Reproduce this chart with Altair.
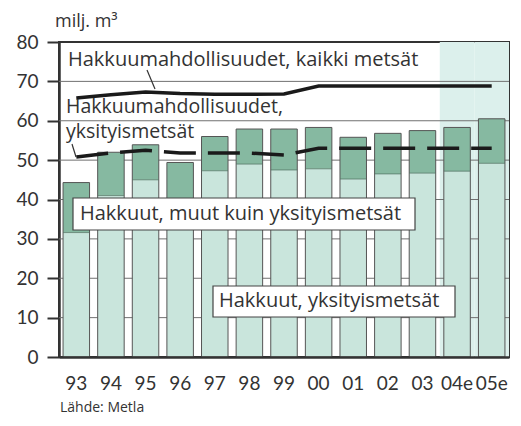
import altair as alt
import pandas as pd

years = ["93", "94", "95", "96", "97", "98", "99", "00", "01", "02", "03", "04e", "05e"]
fellings_private = [31.6, 41.0, 45.0, 37.0, 47.3, 49.0, 47.5, 47.8, 45.2, 46.5, 46.7, 47.2, 49.2]
fellings_total = [44.3, 52.0, 53.9, 49.4, 56.0, 57.9, 57.9, 58.3, 55.8, 56.8, 57.5, 58.3, 60.5]
potential_all = [65.8, 66.6, 67.3, 66.9, 66.7, 66.7, 66.8, 68.8, 68.8, 68.8, 68.8, 68.8, 68.8]
potential_private = [50.8, 51.8, 52.5, 51.8, 51.8, 51.8, 51.3, 53.0, 53.0, 53.0, 53.0, 53.0, 53.0]
estimate_years = ["04e", "05e"]
grid_values = [10, 20, 30, 40, 50, 60, 70]
y_ticks = [0, 10, 20, 30, 40, 50, 60, 70, 80]

label_all = "Hakkuumahdollisuudet, kaikki metsät"
label_priv1 = "Hakkuumahdollisuudet,"
label_priv2 = "yksityismetsät"
label_other = "Hakkuut, muut kuin yksityismetsät"
label_fell_priv = "Hakkuut, yksityismetsät"
unit_title = "milj. m³"
source_text = "Lähde: Metla"

W, H = 450, 315
BAR = 26.5
FONT = "Lato"
LFONT = "Open Sans"
TXT = "#333333"

df = pd.DataFrame({
    "year": years,
    "priv": fellings_private,
    "total": fellings_total,
    "pot_all": potential_all,
    "pot_priv": potential_private,
    "zero": [0] * len(years),
})
df_est = pd.DataFrame({"year": estimate_years})
df_grid = pd.DataFrame({"v": grid_values})

xaxis = alt.Axis(labelFont=FONT, labelFontSize=19, labelColor=TXT,
                 ticks=False, tickSize=0, labelPadding=17, labelAngle=0,
                 domainColor="#333333", domainWidth=2.5, labelOverlap=False)
yaxis = alt.Axis(values=y_ticks, grid=False, labelOverlap=False,
                 labelFont=FONT, labelFontSize=19, labelColor=TXT,
                 tickSize=12, tickWidth=2, tickColor="#333333",
                 domainColor="#333333", domainWidth=2.5, labelPadding=9)
xscale = alt.Scale(paddingInner=0, paddingOuter=0)
yscale = alt.Scale(domain=[0, 80], nice=False, zero=True)


def X():
    return alt.X("year:N", sort=years, title=None, scale=xscale, axis=xaxis)


def Y(field):
    return alt.Y(field, scale=yscale, title=None, axis=yaxis)


shade = alt.Chart(df_est).mark_rect(color="#dcf0ec").encode(
    x=X(), y=alt.value(0), y2=alt.value(H))

grid = alt.Chart(df_grid).mark_rule(color="#707070", strokeWidth=1).encode(
    y=Y("v:Q"), x=alt.value(0), x2=alt.value(W))

light = alt.Chart(df).mark_bar(size=BAR, color="#c9e5dc").encode(
    x=X(), y=Y("priv:Q"), y2="zero:Q")

dark = alt.Chart(df).mark_bar(size=BAR, color="#86b9a1").encode(
    x=X(), y=Y("total:Q"), y2="priv:Q")

outline = alt.Chart(df).mark_bar(
    size=BAR, fillOpacity=0, stroke="#555555", strokeWidth=1).encode(
    x=X(), y=Y("total:Q"), y2="zero:Q")

boundary = alt.Chart(df).mark_tick(size=BAR, thickness=1, color="#4f6f60",
                                   strokeDash=[3, 2], orient="horizontal").encode(
    x=X(), y=Y("priv:Q"))

line_all = alt.Chart(df).mark_line(color="#1a1a1a", strokeWidth=3.5).encode(
    x=X(), y=Y("pot_all:Q"))

line_priv = alt.Chart(df).mark_line(color="#1a1a1a", strokeWidth=3.5,
                                    strokeDash=[32, 12]).encode(
    x=X(), y=Y("pot_priv:Q"))

one = pd.DataFrame({"k": [0]})


def leader(x1, y1, x2, y2):
    return alt.Chart(one).mark_rule(color="#333333", strokeWidth=1.2).encode(
        x=alt.value(x1), y=alt.value(y1), x2=alt.value(x2), y2=alt.value(y2))


def box(x1, y1, x2, y2):
    return alt.Chart(one).mark_rect(fill="white", stroke="#444444", strokeWidth=1.2).encode(
        x=alt.value(x1), y=alt.value(y1), x2=alt.value(x2), y2=alt.value(y2))


def label(t, x, y, size=20, font=LFONT):
    return alt.Chart(pd.DataFrame({"t": [t]})).mark_text(
        align="left", baseline="middle", font=font, fontSize=size, color=TXT).encode(
        x=alt.value(x), y=alt.value(y), text="t:N")


layers = [
    shade, grid, light, dark, outline, boundary, line_all, line_priv,
    leader(88, 28, 96, 47),
    leader(13, 102, 17, 115),
    box(14, 156, 356, 188),
    box(154, 244, 396, 275),
    label(label_all, 9, 18),
    label(label_priv1, 7, 65, 19.5),
    label(label_priv2, 7, 90, 19.5),
    label(label_other, 21, 172),
    label(label_fell_priv, 160, 259),
    label(unit_title, -4, -20, 18),
    label(source_text, 1, 366, 14),
]

chart = alt.layer(*layers).properties(
    width=W, height=H,
    autosize=alt.AutoSizeParams(type="none"),
    padding={"left": 51, "top": 34, "right": 4, "bottom": 61},
    background="white",
).configure_view(stroke="#333333", strokeWidth=2).configure_axis(labelOverlap=False)

chart.save("out.html", embed_options={"renderer": "svg", "actions": False})
